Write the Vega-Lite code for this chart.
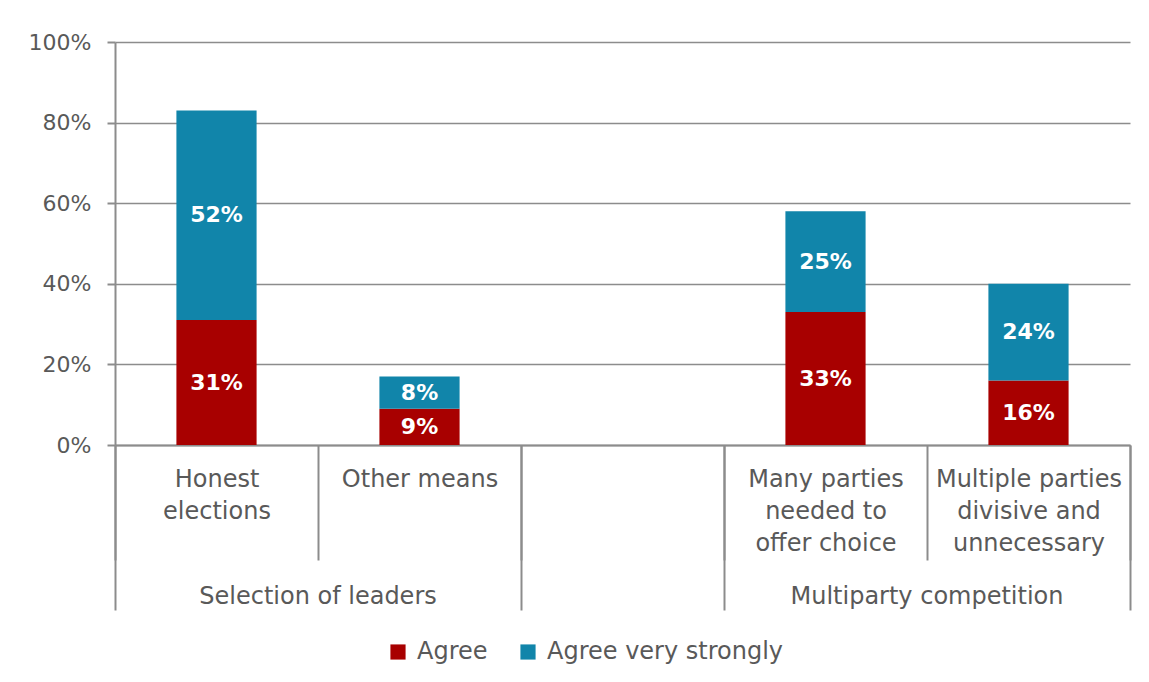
{
  "$schema": "https://vega.github.io/schema/vega-lite/v6.json",
  "width": 1015,
  "height": 403,
  "autosize": {"type": "none"},
  "padding": {"left": 115, "top": 42, "right": 19, "bottom": 237},
  "config": {
    "font": "DejaVu Sans",
    "view": {"stroke": null},
    "axis": {"labelColor": "#595959", "labelFontSize": 22, "labelFontWeight": "normal", "domainColor": "#8c8c8c", "tickColor": "#8c8c8c", "gridColor": "#8c8c8c"}
  },
  "data": {
    "values": [
      {"category": "Honest elections", "response": "Agree", "value": 0.31},
      {"category": "Honest elections", "response": "Agree very strongly", "value": 0.52},
      {"category": "Other means", "response": "Agree", "value": 0.09},
      {"category": "Other means", "response": "Agree very strongly", "value": 0.08},
      {"category": "Many parties needed to offer choice", "response": "Agree", "value": 0.33},
      {"category": "Many parties needed to offer choice", "response": "Agree very strongly", "value": 0.25},
      {"category": "Multiple parties divisive and unnecessary", "response": "Agree", "value": 0.16},
      {"category": "Multiple parties divisive and unnecessary", "response": "Agree very strongly", "value": 0.24}
    ]
  },
  "layer": [
    {
      "mark": {"type": "bar", "width": {"band": 0.395}},
      "encoding": {
        "x": {
          "field": "category", "type": "nominal",
          "scale": {"domain": ["Honest elections", "Other means", "(blank)", "Many parties needed to offer choice", "Multiple parties divisive and unnecessary"], "paddingInner": 0, "paddingOuter": 0},
          "axis": {
            "title": null, "orient": "bottom", "labelAngle": 0, "tickBand": "extent", "tickSize": 115, "tickWidth": 2, "domainWidth": 2,
            "labelPadding": -93, "labelBaseline": "top", "labelLineHeight": 32, "labelLimit": 0, "labelFontSize": 24,
            "labelExpr": "datum.value == 'Honest elections' ? ['Honest', 'elections'] : datum.value == 'Other means' ? 'Other means' : datum.value == 'Many parties needed to offer choice' ? ['Many parties', 'needed to', 'offer choice'] : datum.value == 'Multiple parties divisive and unnecessary' ? ['Multiple parties', 'divisive and', 'unnecessary'] : ''"
          }
        },
        "y": {
          "field": "value", "type": "quantitative", "stack": "zero",
          "scale": {"domain": [0, 1]},
          "axis": {"title": null, "format": ".0%", "values": [0, 0.2, 0.4, 0.6, 0.8, 1], "tickSize": 8, "tickWidth": 2, "domainWidth": 2, "gridWidth": 1.5, "labelPadding": 16}
        },
        "color": {
          "field": "response", "type": "nominal",
          "scale": {"domain": ["Agree", "Agree very strongly"], "range": ["#A80000", "#1185AA"]},
          "legend": {"title": null, "orient": "none", "legendX": 271, "legendY": 598, "direction": "horizontal", "symbolType": "square", "symbolSize": 230, "labelFontSize": 24, "labelColor": "#595959", "labelLimit": 0, "columnPadding": 28, "symbolStrokeWidth": 0, "labelOffset": 7}
        },
        "order": {"field": "response", "sort": "ascending"}
      }
    },
    {
      "mark": {"type": "text", "color": "white", "fontSize": 22, "fontWeight": "bold"},
      "encoding": {
        "x": {
          "field": "category", "type": "nominal",
          "axis": {"title": null, "orient": "bottom", "bandPosition": 0, "values": ["Honest elections", "(blank)", "Many parties needed to offer choice"], "tickSize": 165, "tickWidth": 2, "labels": false, "domain": false}
        },
        "y": {"field": "value", "type": "quantitative", "stack": "zero", "bandPosition": 0.5},
        "detail": {"field": "response", "type": "nominal"},
        "order": {"field": "response", "sort": "ascending"},
        "text": {"field": "value", "type": "quantitative", "format": ".0%"}
      }
    },
    {
      "mark": {"type": "bar", "opacity": 0},
      "encoding": {
        "x": {
          "field": "category", "type": "nominal",
          "axis": {"title": null, "orient": "bottom", "bandPosition": 1, "values": ["Multiple parties divisive and unnecessary"], "tickSize": 165, "tickWidth": 2, "labels": false, "domain": false}
        },
        "y": {"field": "value", "type": "quantitative", "stack": "zero"},
        "detail": {"field": "response", "type": "nominal"}
      }
    },
    {
      "mark": {"type": "bar", "opacity": 0},
      "encoding": {
        "x": {
          "field": "category", "type": "nominal",
          "axis": {"title": null, "orient": "bottom", "values": ["Other means", "Multiple parties divisive and unnecessary"], "ticks": false, "domain": false, "labelAngle": 0, "labelAlign": "center", "labelOffset": -101.5, "labelPadding": 139, "labelBaseline": "top", "labelLimit": 0, "labelFontSize": 24,
            "labelExpr": "datum.value == 'Other means' ? 'Selection of leaders' : 'Multiparty competition'"}
        },
        "y": {"field": "value", "type": "quantitative", "stack": "zero"},
        "detail": {"field": "response", "type": "nominal"}
      }
    }
  ],
  "resolve": {"axis": {"x": "independent"}}
}
